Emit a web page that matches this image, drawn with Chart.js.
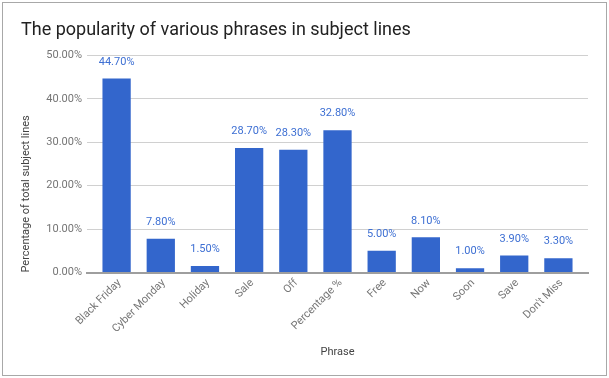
<!DOCTYPE html>
<html>
<head>
<meta charset="utf-8">
<script src="https://cdn.jsdelivr.net/npm/chart.js@4.4.1/dist/chart.umd.min.js"></script>
<style>
  html, body { margin: 0; padding: 0; background: #ffffff; }
  #wrap { position: absolute; left: 0; top: 0; width: 609px; height: 378px; }
</style>
</head>
<body>
<div id="wrap"><canvas id="c" width="609" height="378"></canvas></div>
<script>
const chartTitle = "The popularity of various phrases in subject lines";
const categories = ["Black Friday", "Cyber Monday", "Holiday", "Sale", "Off", "Percentage %", "Free", "Now", "Soon", "Save", "Don't Miss"];
const values = [44.7, 7.8, 1.5, 28.7, 28.3, 32.8, 5.0, 8.1, 1.0, 3.9, 3.3];
const yTicks = [0, 10, 20, 30, 40, 50];
const xTitle = "Phrase";
const yTitle = "Percentage of total subject lines";

const FONT = "Roboto, 'Liberation Sans', Arial, sans-serif";

const cardBorder = {
  id: 'cardBorder',
  afterDraw(chart) {
    const ctx = chart.ctx;
    ctx.save();
    ctx.strokeStyle = '#a8a8a8';
    ctx.lineWidth = 1;
    ctx.strokeRect(2.5, 2.5, 604, 373);
    ctx.restore();
  }
};

const valueLabels = {
  id: 'valueLabels',
  afterDatasetsDraw(chart) {
    const ctx = chart.ctx;
    const meta = chart.getDatasetMeta(0);
    ctx.save();
    ctx.font = "11px " + FONT;
    ctx.fillStyle = '#3d6fd3';
    ctx.textAlign = 'center';
    ctx.textBaseline = 'middle';
    meta.data.forEach((el, i) => {
      ctx.fillText(values[i].toFixed(2) + '%', el.x, el.y - 16.5);
    });
    ctx.restore();
  }
};

new Chart(document.getElementById('c'), {
  type: 'bar',
  data: {
    datasets: [{
      data: values.map((v, i) => ({ x: i, y: v })),
      backgroundColor: '#3366cc',
      borderWidth: 0,
      categoryPercentage: 0.8,
      barPercentage: 0.8
    }]
  },
  options: {
    responsive: false,
    animation: false,
    devicePixelRatio: 1,
    layout: { padding: { left: 21, right: 21, top: 0, bottom: 0 } },
    plugins: {
      legend: { display: false },
      tooltip: { enabled: false },
      title: {
        display: true,
        text: chartTitle,
        align: 'start',
        color: '#222222',
        font: { family: FONT, size: 18, weight: 'normal', lineHeight: 1.2 },
        padding: { top: 19.7, bottom: 14.2 }
      }
    },
    scales: {
      x: {
        type: 'linear',
        offset: false,
        min: -0.67,
        max: categories.length - 1 + 0.67,
        afterBuildTicks(scale) {
          scale.ticks = categories.map((_, i) => ({ value: i }));
        },
        afterFit(scale) { scale.height = 105.5; },
        grid: { display: false, drawTicks: false, offset: false },
        border: { display: true, color: '#9e9e9e', width: 2 },
        ticks: {
          autoSkip: false,
          maxRotation: 45,
          minRotation: 45,
          padding: 4,
          labelOffset: 3,
          color: '#757575',
          font: { family: FONT, size: 11 },
          callback: (v) => categories[v]
        },
        title: {
          display: true,
          text: xTitle,
          color: '#444444',
          font: { family: FONT, size: 11 },
          padding: { top: 0, bottom: 19 }
        }
      },
      y: {
        min: 0,
        max: 50,
        afterBuildTicks(scale) {
          scale.ticks = yTicks.map(v => ({ value: v }));
        },
        afterFit(scale) { scale.width = 66; },
        grid: {
          drawTicks: false,
          color: (c) => c.tick && c.tick.value === 0 ? 'rgba(0,0,0,0)' : '#d0d0d0',
          lineWidth: 1
        },
        border: { display: false },
        ticks: {
          padding: 5,
          color: '#757575',
          font: { family: FONT, size: 11 },
          callback: (v) => v.toFixed(2) + '%'
        },
        title: {
          display: true,
          text: yTitle,
          align: 'start',
          color: '#444444',
          font: { family: FONT, size: 11, lineHeight: 1.0 },
          padding: { top: 0, bottom: 5 }
        }
      }
    }
  },
  plugins: [cardBorder, valueLabels]
});
</script>
</body>
</html>
